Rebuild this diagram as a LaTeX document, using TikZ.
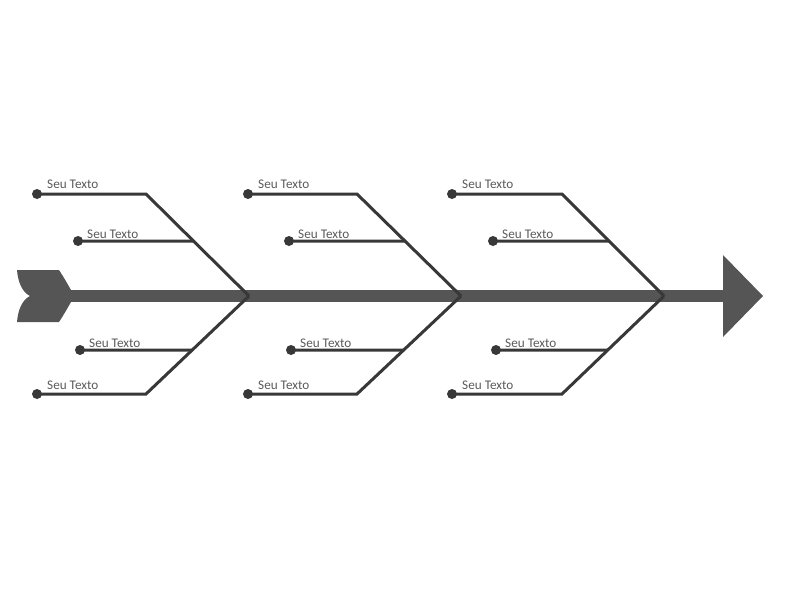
\documentclass[tikz,border=0pt]{standalone}
\usepackage{fontspec}
\setmainfont{Carlito}
\usetikzlibrary{calc}
\definecolor{spinecol}{HTML}{555555}
\definecolor{bonecol}{HTML}{383838}
\definecolor{textcol}{HTML}{5A5A5A}
\tikzset{
  bone/.style={draw=bonecol, line width=3pt, line cap=butt, line join=miter},
  dotnode/.style={circle, fill=bonecol, inner sep=0pt, minimum size=10pt},
  lbl/.style={anchor=base west, inner sep=0pt, text=textcol, font=\fontsize{13.2}{15}\selectfont},
}
\begin{document}
\begin{tikzpicture}[x=1pt,y=-1pt]
\useasboundingbox (0,0) rectangle (800,600);
% spine
\fill[spinecol] (69,290) rectangle (724,302);
% arrow head
\fill[spinecol] (723,255) -- (763,296) -- (723,337) -- cycle;
% tail
\fill[spinecol] (17,270) -- (59,270) .. controls (63,276) and (67,283) .. (71,290)
  -- (71,302) .. controls (67,309) and (63,316) .. (59,322) -- (17,322)
  .. controls (18,310) and (22,300) .. (30,296)
  .. controls (22,292) and (18,282) .. (17,270) -- cycle;
% bones
\foreach \g/\d/\c/\s/\ta/\tb in {1/37/146/249/78/80, 2/248/357/461/289/291, 3/452/562/664/493/496}{
  \coordinate (s\g) at (\s,296);
  \coordinate (ct\g) at (\c,194);
  \coordinate (cb\g) at (\c,394);
  \node[dotnode] (dt\g) at (\d,194) {};
  \node[dotnode] (db\g) at (\d,394) {};
  \node[dotnode] (et\g) at (\ta,241) {};
  \node[dotnode] (eb\g) at (\tb,350) {};
  \coordinate (jt\g) at ($(ct\g)!0.461!(s\g)$);
  \coordinate (jb\g) at ($(cb\g)!0.449!(s\g)$);
  \draw[bone] (dt\g.center) -- (ct\g) -- (s\g);
  \draw[bone] (db\g.center) -- (cb\g) -- (s\g);
  \draw[bone] (et\g.center) -- (jt\g);
  \draw[bone] (eb\g.center) -- (jb\g);
  \node[lbl] (lt\g) at ($(dt\g.center)+(10,-6)$) {Seu Texto};
  \node[lbl] (lb\g) at ($(db\g.center)+(10,-5)$) {Seu Texto};
  \node[lbl] (le\g) at ($(et\g.center)+(9,-3)$) {Seu Texto};
  \node[lbl] (lf\g) at ($(eb\g.center)+(9,-3)$) {Seu Texto};
}
\end{tikzpicture}
\end{document}
